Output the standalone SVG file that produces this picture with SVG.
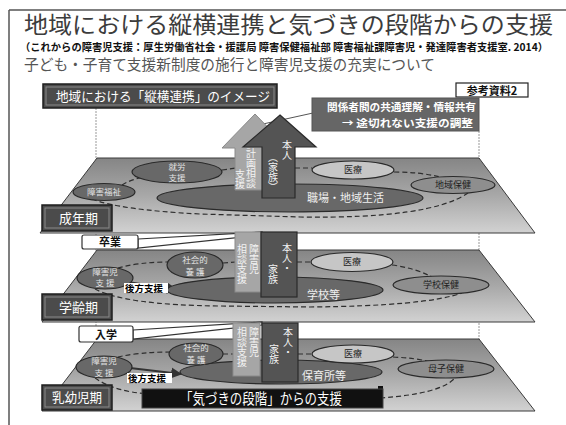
<svg xmlns="http://www.w3.org/2000/svg" width="566" height="425" viewBox="0 0 566 425">
<defs>
<linearGradient id="layerGrad" x1="0" y1="0" x2="0" y2="1">
<stop offset="0" stop-color="#858585"/>
<stop offset="0.5" stop-color="#a8a8a8"/>
<stop offset="1" stop-color="#d2d2d2"/>
</linearGradient>
<marker id="ah" viewBox="0 0 10 10" refX="9" refY="5" markerWidth="5" markerHeight="5" orient="auto">
<path d="M0,0 L10,5 L0,10 z" fill="#333"/>
</marker>
<style>
text{font-family:"Noto Sans CJK JP","Noto Sans",sans-serif;}
.layer{fill:url(#layerGrad);stroke:#3a3a3a;stroke-width:1;}
.guide{stroke:#999;stroke-width:1;fill:none;}
.dash{fill:none;stroke:#2e2e2e;stroke-width:1.2;stroke-dasharray:5 3;}
.elD{fill:#686868;stroke:#2a2a2a;stroke-width:1.2;}
.elL{fill:#c6c6c6;stroke:#2a2a2a;stroke-width:1.2;}
.elM{fill:#8e8e8e;stroke:#2a2a2a;stroke-width:1.2;}
.tD{fill:#e2e2e2;font-size:8.5px;text-anchor:middle;}
.tBig{fill:#f0f0f0;font-size:11px;}
.tL{fill:#222;font-size:9px;text-anchor:middle;}
.bev{fill:#4b4b4b;stroke:#1e1e1e;stroke-width:1.5;}
.bevIn{fill:none;stroke:#8a8a8a;stroke-width:1;}
.tW{fill:#fff;font-size:13px;}
.light{fill:#a6a6a6;stroke:#8a8a8a;stroke-width:1;}
.dark{fill:#545454;stroke:#2a2a2a;stroke-width:1.2;}
.vt{writing-mode:vertical-rl;font-size:10px;fill:#f2f2f2;}
.call{fill:#fff;stroke:#333;stroke-width:1.2;}
.tCall{fill:#111;font-size:11px;font-weight:bold;text-anchor:middle;}
.back{fill:#fff;stroke:none;}
.tBack{fill:#000;font-size:9.5px;font-weight:bold;}
</style>
</defs>
<rect width="566" height="425" fill="#fff"/>
<g id="frame">
<line x1="9" y1="10" x2="566" y2="10" stroke="#555" stroke-width="1.5"/>
<line x1="9" y1="10" x2="9" y2="425" stroke="#555" stroke-width="1.5"/>
</g>
<g id="titles">
<text x="24" y="32.5" font-size="23" fill="#3c3c3c" textLength="529" lengthAdjust="spacingAndGlyphs">地域における縦横連携と気づきの段階からの支援</text>
<text x="20" y="51" font-size="10.5" font-weight="bold" fill="#111" textLength="528" lengthAdjust="spacingAndGlyphs">（これからの障害児支援：厚生労働省社会・援護局 障害保健福祉部 障害福祉課障害児・発達障害者支援室. 2014）</text>
<text x="24" y="69.5" font-size="15" fill="#555" textLength="411" lengthAdjust="spacingAndGlyphs">子ども・子育て支援新制度の施行と障害児支援の充実について</text>
</g>
<g id="guides">
<line class="guide" x1="96" y1="108" x2="96" y2="339" stroke-dasharray="2 1"/>
<line class="guide" x1="479" y1="131" x2="479" y2="339" stroke-dasharray="2 1"/>
</g>
<g id="layers">
<polygon id="layer-adult" class="layer" points="97,158 479,158 535,233 40,233"/>
<polygon id="layer-school" class="layer" points="97,250 479,250 535,322 42,322"/>
<polygon id="layer-infant" class="layer" points="97,339 479,339 535,411 42,411"/>
</g>
<g id="connectors">
<line x1="263" y1="124" x2="313" y2="113" stroke="#555" stroke-width="1"/>
<path class="dash" d="M122,185 Q130,180 140,178"/>
<path class="dash" d="M222,170 L236,168"/>
<path class="dash" d="M295,168 L312,168"/>
<path class="dash" d="M394,172 Q420,172 440,177"/>
<path class="dash" d="M92,199 Q120,210 200,214 L300,217 Q430,219 468,193"/>
<path class="dash" d="M118,268 Q140,262 168,262"/>
<path class="dash" d="M223,263 L236,262"/>
<path class="dash" d="M297,262 L311,262"/>
<path class="dash" d="M392,265 Q415,268 432,277"/>
<path class="dash" d="M95,289 Q125,305 220,306 L310,307 Q425,306 462,293"/>
<path class="dash" d="M118,357 Q140,352 170,352"/>
<path class="dash" d="M223,354 L234,354"/>
<path class="dash" d="M298,354 L312,354"/>
<path class="dash" d="M393,357 Q415,358 432,362"/>
<path class="dash" d="M95,378 Q115,392 150,394 L380,398 Q440,394 455,378"/>
<line x1="128" y1="282" x2="177" y2="290" stroke="#333" stroke-width="2.2" marker-end="url(#ah)"/>
<line x1="130" y1="368" x2="181" y2="374" stroke="#333" stroke-width="2.2" marker-end="url(#ah)"/>
</g>
<g id="header">
<rect class="bev" x="43" y="84" width="234" height="24"/>
<rect class="bevIn" x="46" y="87" width="228" height="18"/>
<text class="tW" x="56" y="101" textLength="214" lengthAdjust="spacingAndGlyphs">地域における「縦横連携」のイメージ</text>
</g>
<g id="ref-label">
<rect x="456" y="83" width="72" height="14" fill="#fff" stroke="#222" stroke-width="1.2"/>
<text x="492" y="94.5" font-size="11" font-weight="bold" fill="#111" text-anchor="middle">参考資料2</text>
</g>
<g id="note-box">
<rect x="312" y="98" width="167" height="33" fill="#666" stroke="#555" stroke-width="1"/>
<text x="327" y="111" font-size="10.5" font-weight="bold" fill="#fff" textLength="149" lengthAdjust="spacingAndGlyphs">関係者間の共通理解・情報共有</text>
<text x="342" y="127" font-size="10.5" font-weight="bold" fill="#fff" textLength="131" lengthAdjust="spacingAndGlyphs">→  途切れない支援の調整</text>
</g>
<g id="adult-nodes">
<ellipse class="elD" cx="290" cy="198" rx="133" ry="14"/>
<text class="tBig" x="307" y="202">職場・地域生活</text>
<ellipse class="elD" cx="177" cy="172" rx="45" ry="11"/>
<text class="tD" x="177" y="170">就労</text>
<text class="tD" x="177" y="181">支援</text>
<ellipse class="elD" cx="104" cy="192" rx="31" ry="8.5"/>
<text class="tD" x="104" y="195">障害福祉</text>
<ellipse class="elL" cx="353" cy="170" rx="41" ry="9"/>
<text class="tL" x="353" y="173">医療</text>
<ellipse class="elM" cx="453" cy="185" rx="42" ry="8.5"/>
<text class="tL" x="453" y="188">地域保健</text>
</g>
<g id="adult-arrows">
<polygon class="light" points="255,114 288,148 275,148 275,190 235,190 235,148 222,148"/>
<text class="vt" x="251" y="148">計画相談</text>
<text class="vt" x="240" y="169">支援</text>
<polygon class="dark" points="280,115 316,147 295,147 295,198 262,198 262,147 243,147"/>
<text class="vt" x="287" y="140">本人</text>
<text class="vt" x="273" y="152">（家族）</text>
</g>
<g id="label-adult">
<rect class="bev" x="42" y="205" width="70" height="26"/>
<rect class="bevIn" x="45" y="208" width="64" height="20"/>
<text class="tW" x="59" y="222.5">成年期</text>
</g>
<g id="callout-graduate">
<polygon class="call" points="138,239 262,232 262,235 138,248"/>
<rect class="call" x="82" y="235" width="56" height="14" rx="2"/>
<text class="tCall" x="110" y="246">卒業</text>
</g>
<g id="school-nodes">
<ellipse class="elD" cx="275" cy="290" rx="108" ry="13"/>
<text class="tBig" x="307" y="299">学校等</text>
<ellipse class="elD" cx="105" cy="278" rx="28" ry="11"/>
<text class="tD" x="105" y="274.5">障害児</text>
<text class="tD" x="105" y="286">支 援</text>
<ellipse class="elD" cx="195" cy="265" rx="28" ry="13"/>
<text class="tD" x="195" y="262.5">社会的</text>
<text class="tD" x="195" y="274.5">養 護</text>
<ellipse class="elL" cx="352" cy="262" rx="41" ry="9.5"/>
<text class="tL" x="352" y="265">医療</text>
<ellipse class="elM" cx="441" cy="285" rx="48" ry="9"/>
<text class="tL" x="441" y="288">学校保健</text>
<rect class="back" x="124" y="283" width="44" height="10"/>
<text class="tBack" x="125" y="291.5">後方支援</text>
</g>
<g id="school-columns">
<rect class="light" x="235" y="232" width="26" height="60"/>
<text class="vt" x="254" y="244">障害児</text>
<text class="vt" x="242" y="244">相談支援</text>
<rect class="dark" x="261" y="232" width="36" height="65"/>
<text class="vt" x="287" y="243">本人・</text>
<text class="vt" x="273" y="264">家族</text>
</g>
<g id="label-school">
<rect class="bev" x="42" y="294" width="70" height="26"/>
<rect class="bevIn" x="45" y="297" width="64" height="20"/>
<text class="tW" x="59" y="312">学齢期</text>
</g>
<g id="callout-enter">
<polygon class="call" points="133,330 262,322 262,325 133,339"/>
<rect class="call" x="79" y="326" width="54" height="16" rx="2"/>
<text class="tCall" x="106" y="338.5">入学</text>
</g>
<g id="infant-nodes">
<ellipse class="elD" cx="281" cy="372" rx="101" ry="12"/>
<text class="tBig" x="302" y="380">保育所等</text>
<ellipse class="elD" cx="104" cy="367" rx="28" ry="11"/>
<text class="tD" x="104" y="364">障害児</text>
<text class="tD" x="104" y="375.5">支 援</text>
<ellipse class="elD" cx="196" cy="354" rx="27" ry="11"/>
<text class="tD" x="196" y="351">社会的</text>
<text class="tD" x="196" y="362.5">養 護</text>
<ellipse class="elL" cx="353" cy="354" rx="41" ry="9"/>
<text class="tL" x="353" y="357">医療</text>
<ellipse class="elM" cx="446" cy="369" rx="48" ry="9"/>
<text class="tL" x="446" y="372">母子保健</text>
<rect class="back" x="127" y="373" width="45" height="10"/>
<text class="tBack" x="128" y="381.5">後方支援</text>
</g>
<g id="infant-columns">
<rect class="light" x="233" y="323" width="27" height="53"/>
<text class="vt" x="254" y="327">障害児</text>
<text class="vt" x="242" y="327">相談支援</text>
<rect class="dark" x="262" y="323" width="36" height="59"/>
<text class="vt" x="288" y="327">本人・</text>
<text class="vt" x="274" y="344">家族</text>
</g>
<g id="label-infant">
<rect class="bev" x="42" y="385" width="70" height="25"/>
<rect class="bevIn" x="45" y="388" width="64" height="19"/>
<text class="tW" x="52" y="402" textLength="50" lengthAdjust="spacingAndGlyphs">乳幼児期</text>
</g>
<g id="banner">
<rect x="378" y="386" width="5" height="6" fill="#111"/>
<rect x="142" y="389" width="241" height="19" fill="#111" stroke="#444" stroke-width="1"/>
<text x="180" y="404" font-size="14.5" fill="#fff" textLength="162" lengthAdjust="spacingAndGlyphs">「気づきの段階」からの支援</text>
</g>
</svg>
